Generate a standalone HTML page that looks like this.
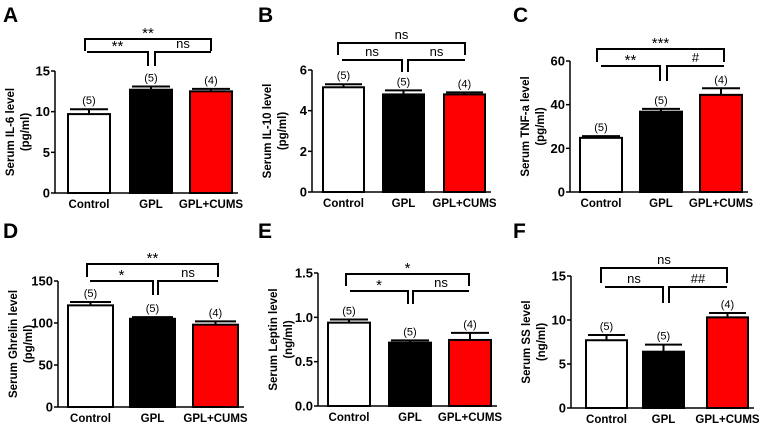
<!DOCTYPE html>
<html><head><meta charset="utf-8">
<style>
body{margin:0;background:#fff;}
svg{display:block;font-family:"Liberation Sans",Arial,sans-serif;}
.tick{font-size:13px;font-weight:bold;}
.cat{font-size:11.5px;font-weight:bold;}
.ytitle{font-size:11.5px;font-weight:bold;}
.n{font-size:11px;}
.sig{font-size:13px;}
.star{font-size:15px;}
.letter{font-size:21px;font-weight:bold;}
</style></head>
<body>
<svg id="fig" width="766" height="430" viewBox="0 0 766 430"></svg>
<script>
const categories = ["Control","GPL","GPL+CUMS"];
const barColors = ["#ffffff","#000000","#ff0000"];
const nLabels = ["(5)","(5)","(4)"];

const il6Values = [9.7, 12.7, 12.5];
const il6Errors = [0.6, 0.4, 0.3];
const il6Ticks = [0,5,10,15];
const il6Sig = ["**","**","ns"];

const il10Values = [5.15, 4.8, 4.8];
const il10Errors = [0.15, 0.2, 0.1];
const il10Ticks = [0,2,4,6];
const il10Sig = ["ns","ns","ns"];

const tnfValues = [24.8, 36.8, 44.5];
const tnfErrors = [0.8, 1.3, 3.0];
const tnfTicks = [0,20,40,60];
const tnfSig = ["***","**","#"];

const ghrValues = [121, 105, 98];
const ghrErrors = [4, 2, 4];
const ghrTicks = [0,50,100,150];
const ghrSig = ["**","*","ns"];

const lepValues = [0.94, 0.715, 0.745];
const lepErrors = [0.035, 0.025, 0.08];
const lepTicks = [0.0,0.5,1.0,1.5];
const lepTickLabels = ["0.0","0.5","1.0","1.5"];
const lepSig = ["*","*","ns"];

const ssValues = [7.7, 6.4, 10.3];
const ssErrors = [0.6, 0.8, 0.5];
const ssTicks = [0,5,10,15];
const ssSig = ["ns","ns","##"];

const panels = [
 {id:"a",letter:"A",lx:3,ly:22,ax:55,y0:193,yT:71,max:15,bx:[68,130,190],bw:42,
  title:["Serum IL-6 level","(pg/ml)"],vals:il6Values,errs:il6Errors,ticks:il6Ticks,sig:il6Sig,
  ob:{y:39,x1:85,x2:211,leg:12},ib:{y:52,x1:87,xm1:148,xm2:155,x2:211,leg:14}},
 {id:"b",letter:"B",lx:258,ly:22,ax:312,y0:192,yT:70,max:6,bx:[323,383,444],bw:41,
  title:["Serum IL-10 level","(pg/ml)"],vals:il10Values,errs:il10Errors,ticks:il10Ticks,sig:il10Sig,
  ob:{y:43,x1:338,x2:465,leg:12},ib:{y:60,x1:342,xm1:402,xm2:408,x2:465,leg:12}},
 {id:"c",letter:"C",lx:513,ly:22,ax:570,y0:192,yT:61,max:60,bx:[580,640,700],bw:42,
  title:["Serum TNF-a level","(pg/ml)"],vals:tnfValues,errs:tnfErrors,ticks:tnfTicks,sig:tnfSig,
  ob:{y:49,x1:597,x2:724,leg:13},ib:{y:66,x1:601,xm1:660,xm2:667,x2:724,leg:15}},
 {id:"d",letter:"D",lx:3,ly:238,ax:58,y0:407,yT:281,max:150,bx:[68,130,193],bw:45,
  title:["Serum Ghrelin level","(pg/ml)"],vals:ghrValues,errs:ghrErrors,ticks:ghrTicks,sig:ghrSig,
  ob:{y:264,x1:87,x2:218,leg:13},ib:{y:281,x1:90,xm1:153,xm2:158,x2:218,leg:14}},
 {id:"e",letter:"E",lx:258,ly:238,ax:318,y0:406,yT:273,max:1.5,bx:[328,389,449],bw:42,
  title:["Serum Leptin level","(ng/ml)"],vals:lepValues,errs:lepErrors,ticks:lepTicks,tickLabels:lepTickLabels,sig:lepSig,
  ob:{y:274,x1:346,x2:469,leg:12},ib:{y:291,x1:350,xm1:408,xm2:413,x2:469,leg:13}},
 {id:"f",letter:"F",lx:513,ly:238,ax:571,y0:408,yT:276,max:15,bx:[586,643,707],bw:41,
  title:["Serum SS level","(ng/ml)"],vals:ssValues,errs:ssErrors,ticks:ssTicks,sig:ssSig,
  ob:{y:268,x1:601,x2:727,leg:15},ib:{y:287,x1:605,xm1:663,xm2:669,x2:727,leg:16}}
];

const NS="http://www.w3.org/2000/svg";
const svg=document.getElementById("fig");
function mk(tag,attrs,parent,text){
  const e=document.createElementNS(NS,tag);
  for(const k in attrs)e.setAttribute(k,attrs[k]);
  if(text!==undefined)e.textContent=text;
  parent.appendChild(e);return e;
}
function sigText(g,x,y,t){
  const isStar=t.indexOf("*")>=0;
  const s=mk("text",{x:x,y:isStar?y+3:y,class:isStar?"star":"sig","text-anchor":"middle"},g,t);
  
  
}
panels.forEach(p=>{
  const g=mk("g",{},svg);
  
  
  const yS=v=>p.y0-(v/p.max)*(p.y0-p.yT);
  const L=mk("text",{x:p.lx,y:p.ly,class:"letter"},g,p.letter);
  
  
  const ya=mk("line",{x1:p.ax,y1:p.y0,x2:p.ax,y2:p.yT,stroke:"#000","stroke-width":1.5},g);
  
  
  p.ticks.forEach((t,i)=>{
    const y=yS(t);
    mk("line",{x1:p.ax-4,y1:y,x2:p.ax,y2:y,stroke:"#000","stroke-width":1.5},g);
    const tl=mk("text",{x:p.ax-5,y:y+4.5,class:"tick","text-anchor":"end"},g,p.tickLabels?p.tickLabels[i]:String(t));
    
    
  });
  const xEnd=p.bx[2]+p.bw+6;
  const xa=mk("line",{x1:p.ax,y1:p.y0,x2:xEnd,y2:p.y0,stroke:"#000","stroke-width":1.5},g);
  
  
  const cy=(p.y0+p.yT)/2;
  p.title.forEach((t,i)=>{
    const x=p.ax-41+i*15;
    const tt=mk("text",{x:x,y:cy,class:"ytitle","text-anchor":"middle",transform:`rotate(-90 ${x} ${cy})`},g,t);
    
    
  });
  p.vals.forEach((v,i)=>{
    const x=p.bx[i],w=p.bw,top=yS(v),cx=x+w/2;
    const et=yS(v+p.errs[i]);
    const el=mk("line",{x1:cx,y1:top,x2:cx,y2:et,stroke:"#000","stroke-width":2},g);
    
    
    mk("line",{x1:cx-w/2+2,y1:et,x2:cx+w/2-2,y2:et,stroke:"#000","stroke-width":2},g);
    const r=mk("rect",{x:x,y:top,width:w,height:p.y0-top,fill:barColors[i],stroke:"#000","stroke-width":2},g);
    
    
    const n=mk("text",{x:cx,y:et-5,class:"n","text-anchor":"middle"},g,nLabels[i]);
    
    
    const c=mk("text",{x:cx,y:p.y0+15,class:"cat","text-anchor":"middle"},g,categories[i]);
    
    
  });
  const o=p.ob,b=p.ib;
  const ob=mk("path",{d:`M${o.x1},${o.y+o.leg}V${o.y}H${o.x2}V${o.y+o.leg}`,fill:"none",stroke:"#000","stroke-width":2},g);
  
  
  const ib=mk("path",{d:`M${b.x1},${b.y}H${b.xm1}V${b.y+b.leg}M${b.xm2},${b.y+b.leg}V${b.y}H${b.x2}`,fill:"none",stroke:"#000","stroke-width":2},g);
  
  
  sigText(g,(o.x1+o.x2)/2,o.y-4,p.sig[0]);
  sigText(g,(b.x1+b.xm1)/2,b.y-4,p.sig[1]);
  sigText(g,(b.xm2+b.x2)/2,b.y-4,p.sig[2]);
});
</script>
</body></html>
